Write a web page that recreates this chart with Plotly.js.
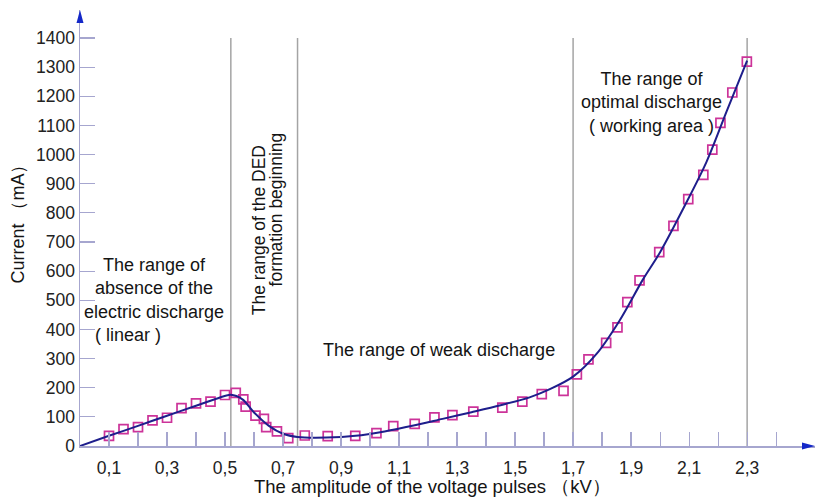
<!DOCTYPE html>
<html>
<head>
<meta charset="utf-8">
<script src="https://cdn.plot.ly/plotly-3.0.1.min.js"></script>
<style>
  html, body { margin: 0; padding: 0; background: #ffffff; }
  #chart { width: 815px; height: 497px; }
</style>
</head>
<body>
<div id="chart"></div>
<script>
// Measured points: pulse amplitude (kV) vs current (mA)
const voltage = [0.10, 0.15, 0.20, 0.25, 0.30, 0.35, 0.40, 0.45, 0.50,
  0.537, 0.563, 0.571, 0.605, 0.634, 0.642, 0.679, 0.718, 0.775,
  0.854, 0.949, 1.022, 1.080, 1.154, 1.222, 1.284, 1.356, 1.456, 1.525, 1.592, 1.667,
  1.713, 1.753, 1.814, 1.853, 1.887, 1.929, 1.997,
  2.046, 2.097, 2.149, 2.180, 2.208, 2.249, 2.299];
const current = [35, 58, 65, 88, 97, 130, 146, 152, 175,
  182, 160, 135, 104, 93, 65, 50, 27, 36,
  34, 35, 44, 68, 76, 98, 106, 118, 132, 152, 178, 189,
  246, 297, 354, 407, 494, 568, 665,
  755, 847, 930, 1017, 1109, 1213, 1319];

// Approximating curve through the measurements
const fitVoltage = [0, 0.10, 0.20, 0.30, 0.40, 0.47, 0.52, 0.56, 0.60, 0.65, 0.70, 0.75,
  0.85, 0.95, 1.05, 1.15, 1.25, 1.35, 1.45, 1.55, 1.62, 1.70, 1.78, 1.86, 1.94,
  2.00, 2.08, 2.16, 2.23, 2.30];
const fitCurrent = [0, 35, 69, 104, 138, 162, 176, 160, 115, 70, 42, 31,
  29, 35, 50, 70, 93, 116, 140, 167, 195, 238, 315, 430, 570,
  665, 815, 975, 1150, 1322];

// Boundaries between discharge regimes (kV)
const boundaries = [0.52, 0.75, 1.70, 2.30];
const boundaryTop = 1400;

// Axis ticks
const xTickVals = [0.1, 0.2, 0.3, 0.4, 0.5, 0.6, 0.7, 0.8, 0.9, 1.0, 1.1, 1.2,
  1.3, 1.4, 1.5, 1.6, 1.7, 1.8, 1.9, 2.0, 2.1, 2.2, 2.3, 2.4];
const xTickText = ['0,1', '', '0,3', '', '0,5', '', '0,7', '', '0,9', '', '1,1', '',
  '1,3', '', '1,5', '', '1,7', '', '1,9', '', '2,1', '', '2,3', ''];
const yTickVals = [0, 100, 200, 300, 400, 500, 600, 700, 800, 900, 1000, 1100, 1200, 1300, 1400];

const FONT = 'Liberation Sans, Arial, sans-serif';
const AXIS_COLOR = '#a6a6cf';
const ARROW_COLOR = '#1428c8';
const INK = '#141414';

const bx = [], by = [];
boundaries.forEach(b => { bx.push(b, b, null); by.push(0, boundaryTop, null); });

const traces = [
  {
    x: bx, y: by, type: 'scatter', mode: 'lines',
    line: {color: '#a4a4a4', width: 1.5},
    hoverinfo: 'skip', showlegend: false
  },
  {
    x: voltage, y: current, type: 'scatter', mode: 'markers',
    marker: {symbol: 'square-open', size: 9, color: '#cc3399', line: {width: 1.7, color: '#cc3399'}},
    showlegend: false
  },
  {
    x: fitVoltage, y: fitCurrent, type: 'scatter', mode: 'lines',
    line: {color: '#1e1e8c', width: 2, shape: 'spline', smoothing: 0.9},
    showlegend: false
  }
];

const textFont = {family: FONT, size: 18, color: INK};

const layout = {
  width: 815, height: 497,
  margin: {l: 80, r: 0, t: 10, b: 51},
  paper_bgcolor: '#ffffff', plot_bgcolor: '#ffffff',
  showlegend: false,
  font: {family: FONT, size: 17, color: '#222222'},
  xaxis: {
    range: [0, 2.534], showgrid: false, zeroline: false,
    showline: true, linecolor: AXIS_COLOR, linewidth: 1.5,
    tickmode: 'array', tickvals: xTickVals, ticktext: xTickText,
    ticks: 'inside', ticklen: 14, tickwidth: 1.2, tickcolor: AXIS_COLOR,
    ticklabelstandoff: 5,
    tickfont: {family: FONT, size: 17.5, color: '#222222'}
  },
  yaxis: {
    range: [0, 1496], showgrid: false, zeroline: false,
    showline: true, linecolor: AXIS_COLOR, linewidth: 1.5,
    tickmode: 'array', tickvals: yTickVals,
    ticks: 'inside', ticklen: 15, tickwidth: 1.2, tickcolor: AXIS_COLOR,
    tickfont: {family: FONT, size: 17.5, color: '#222222'}
  },
  shapes: [
    // arrowhead on the current axis
    {type: 'path', xref: 'paper', yref: 'paper', xsizemode: 'pixel', ysizemode: 'pixel',
     xanchor: 0, yanchor: 1, path: 'M0,0 L-3.5,-13 L3.5,-13 Z',
     fillcolor: ARROW_COLOR, line: {width: 0}},
    // arrowhead on the voltage axis
    {type: 'path', xref: 'paper', yref: 'paper', xsizemode: 'pixel', ysizemode: 'pixel',
     xanchor: 1, yanchor: 0, path: 'M0,0 L-13,3.5 L-13,-3.5 Z',
     fillcolor: ARROW_COLOR, line: {width: 0}}
  ],
  annotations: [
    {x: 0.255, y: 542, xref: 'x', yref: 'y', showarrow: false, align: 'center',
     xanchor: 'center', yanchor: 'middle', font: textFont,
     text: 'The range of<br>absence of the<br>electric discharge'},
    {x: 0.166, y: 381, xref: 'x', yref: 'y', showarrow: false,
     xanchor: 'center', yanchor: 'middle', font: textFont,
     text: '( linear )'},
    {x: 0.617, y: 740, xref: 'x', yref: 'y', showarrow: false, textangle: -90,
     xanchor: 'center', yanchor: 'middle', font: {family: FONT, size: 17.5, color: INK},
     text: 'The range of the DED'},
    {x: 0.676, y: 812, xref: 'x', yref: 'y', showarrow: false, textangle: -90,
     xanchor: 'center', yanchor: 'middle', font: {family: FONT, size: 17.5, color: INK},
     text: 'formation beginning'},
    {x: 1.238, y: 329, xref: 'x', yref: 'y', showarrow: false,
     xanchor: 'center', yanchor: 'middle', font: textFont,
     text: 'The range of weak discharge'},
    {x: 1.969, y: 1180, xref: 'x', yref: 'y', showarrow: false, align: 'center',
     xanchor: 'center', yanchor: 'middle', font: textFont,
     text: 'The range of<br>optimal discharge<br>( working area )'},
    // axis titles
    {x: 0.479, y: -0.094, xref: 'paper', yref: 'paper', showarrow: false,
     xanchor: 'center', yanchor: 'middle', font: {family: FONT, size: 18.5, color: INK},
     text: 'The amplitude of the voltage pulses （kV）'},
    {x: -0.084, y: 0.52, xref: 'paper', yref: 'paper', showarrow: false, textangle: -90,
     xanchor: 'center', yanchor: 'middle', font: {family: FONT, size: 18, color: INK},
     text: 'Current （mA）'}
  ]
};

Plotly.newPlot('chart', traces, layout, {displayModeBar: false, staticPlot: true});
</script>
</body>
</html>
